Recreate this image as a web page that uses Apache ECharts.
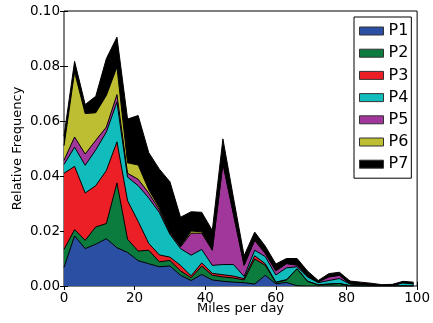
<!DOCTYPE html>
<html>
<head>
<meta charset="utf-8">
<script src="https://cdn.jsdelivr.net/npm/echarts@6/dist/echarts.min.js"></script>
<style>
  html, body { margin: 0; padding: 0; background: #fff; }
  #chart { width: 433px; height: 323px; }
</style>
</head>
<body>
<div id="chart"></div>
<script>
// miles per day (bin starts)
const miles = [0, 3, 6, 9, 12, 15, 18, 21, 24, 27, 30, 33, 36, 39, 42, 45, 48, 51, 54, 57, 60, 63, 66, 69, 72, 75, 78, 81, 84, 87, 90, 93, 96, 99]

const p1 = [0.0068, 0.0182, 0.0136, 0.0152, 0.0172, 0.0139, 0.0122, 0.0092, 0.0081, 0.0070, 0.0073, 0.0039, 0.0020, 0.0042, 0.0022, 0.0017, 0.0014, 0.0012, 0.0007, 0.0039, 0.0008, 0.0013, 0.0001, 0, 0, 0, 0, 0, 0, 0, 0, 0, 0, 0]
const p2 = [0.0065, 0.0023, 0.0030, 0.0063, 0.0055, 0.0236, 0.0048, 0.0035, 0.0049, 0.0018, 0.0020, 0.0016, 0.0010, 0.0030, 0.0017, 0.0016, 0.0015, 0.0010, 0.0091, 0.0036, 0.0005, 0.0009, 0.0061, 0.0017, 0.0004, 0.0007, 0.0009, 0.0001, 0, 0, 0, 0, 0, 0]
const p3 = [0.0277, 0.0230, 0.0172, 0.0150, 0.0193, 0.0149, 0.0140, 0.0108, 0.0025, 0.0025, 0.0012, 0.0020, 0.0007, 0.0012, 0.0007, 0.0008, 0.0007, 0.0005, 0.0012, 0.0006, 0.0001, 0.0001, 0.0001, 0, 0, 0, 0, 0, 0, 0, 0, 0, 0, 0]
const p4 = [0.0032, 0.0070, 0.0101, 0.0130, 0.0140, 0.0145, 0.0086, 0.0130, 0.0165, 0.0154, 0.0083, 0.0061, 0.0075, 0.0049, 0.0029, 0.0037, 0.0042, 0.0008, 0.0020, 0.0026, 0.0026, 0.0043, 0.0007, 0.0016, 0.0008, 0.0013, 0.0018, 0.0006, 0.0006, 0.0004, 0.0002, 0.0002, 0.0012, 0.0008]
const p5 = [0.0015, 0.0037, 0.0041, 0.0035, 0.0018, 0.0027, 0.0014, 0.0023, 0.0018, 0.0010, 0.0005, 0.0006, 0.0080, 0.0059, 0.0055, 0.0367, 0.0182, 0.0040, 0.0036, 0.0011, 0.0015, 0.0015, 0.0006, 0.0002, 0.0003, 0.0013, 0.0012, 0.0001, 0, 0, 0, 0, 0, 0]
const p6 = [0.0053, 0.0236, 0.0147, 0.0100, 0.0115, 0.0100, 0.0038, 0.0052, 0.0012, 0.0008, 0.0004, 0.0002, 0.0008, 0.0005, 0.0002, 0.0002, 0.0001, 0.0001, 0.0001, 0.0001, 0.0001, 0.0001, 0.0001, 0, 0, 0, 0, 0, 0, 0, 0, 0, 0, 0]
const p7 = [0.0035, 0.0039, 0.0033, 0.0060, 0.0134, 0.0109, 0.0159, 0.0180, 0.0135, 0.0140, 0.0182, 0.0106, 0.0070, 0.0071, 0.0070, 0.0088, 0.0059, 0.0034, 0.0029, 0.0026, 0.0024, 0.0018, 0.0023, 0.0019, 0.0005, 0.0012, 0.0011, 0.0010, 0.0008, 0.0006, 0.0003, 0.0004, 0.0005, 0.0006]

const names = ['P1', 'P2', 'P3', 'P4', 'P5', 'P6', 'P7']
const colors = ['#2b50a3', '#0c7b3e', '#ec1f26', '#10bcbc', '#a2379b', '#bebe33', '#000000']
const values = [p1, p2, p3, p4, p5, p6, p7]

const font = 'DejaVu Sans'

let chart = echarts.init(document.getElementById('chart'))

// ECharts stacks on x when both axes are value axes, so the running totals are
// built here and the layers are painted from the top one down.
let running = miles.map(() => 0)
let series = []
for (let i = 0; i < names.length; i++) {
  running = running.map((s, j) => s + values[i][j])
  series.unshift({
    name: names[i],
    type: 'line',
    color: colors[i],
    showSymbol: false,
    lineStyle: { color: '#000', width: 1 },
    areaStyle: { color: colors[i], opacity: 1 },
    emphasis: { disabled: true },
    data: miles.map((m, j) => [m, +running[j].toFixed(6)])
  })
}

let tick = { show: true, inside: true, length: 4, lineStyle: { color: '#000', width: 1 } }

let option = {
  animation: false,
  grid: { left: 64, right: 13, top: 11, bottom: 37, show: true, borderColor: '#000', borderWidth: 1 },
  legend: {
    orient: 'vertical',
    left: 354,
    top: 17,
    padding: [6, 3, 6, 5],
    itemWidth: 24,
    itemHeight: 8,
    itemGap: 6.2,
    itemTextGap: 6,
    icon: 'rect',
    backgroundColor: '#fff',
    borderColor: '#000',
    borderWidth: 1,
    itemStyle: { borderColor: '#333', borderWidth: 1 },
    textStyle: { fontFamily: font, fontSize: 16, color: '#000', lineHeight: 16 },
    data: names
  },
  xAxis: [
    {
      type: 'value', min: 0, max: 100, interval: 20,
      name: 'Miles per day', nameLocation: 'middle', nameGap: 16, nameMoveOverlap: false,
      nameTextStyle: { fontFamily: font, fontSize: 13, color: '#000' },
      axisLine: { show: false },
      axisTick: tick,
      splitLine: { show: false },
      axisLabel: { fontFamily: font, fontSize: 13.5, color: '#000', margin: 5 }
    },
    {
      type: 'value', min: 0, max: 100, interval: 20, position: 'top',
      axisLine: { show: false }, axisTick: tick, splitLine: { show: false }, axisLabel: { show: false }
    }
  ],
  yAxis: [
    {
      type: 'value', min: 0, max: 0.1, interval: 0.02,
      name: 'Relative Frequency', nameLocation: 'middle', nameGap: 40, nameMoveOverlap: false,
      nameTextStyle: { fontFamily: font, fontSize: 13, color: '#000' },
      axisLine: { show: false },
      axisTick: tick,
      splitLine: { show: false },
      axisLabel: { fontFamily: font, fontSize: 13.5, color: '#000', margin: 4, formatter: v => v.toFixed(2) }
    },
    {
      type: 'value', min: 0, max: 0.1, interval: 0.02, position: 'right',
      axisLine: { show: false }, axisTick: tick, splitLine: { show: false }, axisLabel: { show: false }
    }
  ],
  series: series
}

chart.setOption(option)
</script>
</body>
</html>
